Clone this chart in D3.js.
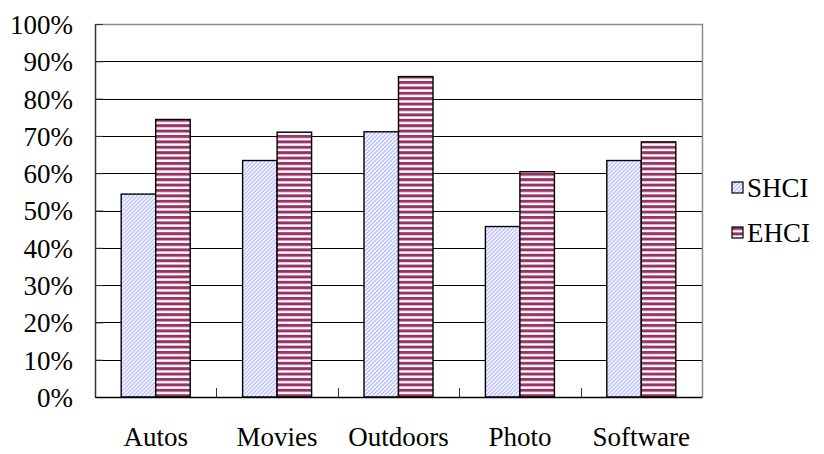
<!DOCTYPE html>
<html>
<head>
<meta charset="utf-8">
<script src="https://cdn.jsdelivr.net/npm/d3@7"></script>
<style>
  html, body { margin: 0; padding: 0; background: #fff; }
  svg { display: block; }
  text { font-family: "Liberation Serif", "Times New Roman", serif; fill: #000; }
</style>
</head>
<body>
<svg id="chart" width="824" height="454"></svg>
<script>
const categories = ["Autos", "Movies", "Outdoors", "Photo", "Software"];
const seriesNames = ["SHCI", "EHCI"];
const shci = [0.544, 0.634, 0.711, 0.457, 0.634];
const ehci = [0.744, 0.710, 0.859, 0.604, 0.684];
const yTicks = [0, 0.1, 0.2, 0.3, 0.4, 0.5, 0.6, 0.7, 0.8, 0.9, 1.0];

const svg = d3.select("#chart");
const m = { left: 95, right: 702, top: 24, bottom: 397 };
const fontSize = "27px";

// fills for each series
const defs = svg.append("defs");
const hatch = defs.append("pattern")
  .attr("id", "hatch-shci").attr("patternUnits", "userSpaceOnUse")
  .attr("width", 4).attr("height", 4);
hatch.append("rect").attr("width", 4).attr("height", 4).attr("fill", "#ffffff");
hatch.append("path").attr("d", "M-1,1 l2,-2 M0,4 l4,-4 M3,5 l2,-2")
  .attr("stroke", "#b4b8ff").attr("stroke-width", 1.3);

const stripe = defs.append("pattern")
  .attr("id", "stripe-ehci").attr("patternUnits", "userSpaceOnUse")
  .attr("width", 8).attr("height", 5.4);
stripe.append("rect").attr("width", 8).attr("height", 5.4).attr("fill", "#ffffff");
stripe.append("rect").attr("y", 0).attr("width", 8).attr("height", 3).attr("fill", "#993366");

const fills = ["url(#hatch-shci)", "url(#stripe-ehci)"];

const x = d3.scaleBand().domain(categories).range([m.left, m.right]).paddingInner(0).paddingOuter(0);
const inner = d3.scaleBand().domain(seriesNames).range([0, 69]);
const y = d3.scaleLinear().domain([0, 1]).range([m.bottom, m.top]);

// horizontal gridlines
svg.append("g").selectAll("line").data(yTicks.filter(d => d > 0 && d < 1)).join("line")
  .attr("x1", m.left).attr("x2", m.right)
  .attr("y1", d => Math.round(y(d)) + 0.5).attr("y2", d => Math.round(y(d)) + 0.5)
  .attr("stroke", "#000").attr("stroke-width", 1);

// frame top and right
svg.append("path")
  .attr("d", `M${m.left},${m.top + 0.5}H${m.right + 0.5}V${m.bottom}`)
  .attr("fill", "none").attr("stroke", "#8c8c8c").attr("stroke-width", 1.5);

// bars
const data = categories.map((c, i) => ({ cat: c, vals: [shci[i], ehci[i]] }));
const groups = svg.append("g").selectAll("g").data(data).join("g")
  .attr("transform", d => `translate(${x(d.cat) + (x.bandwidth() - 69) / 2},0)`);
groups.selectAll("rect").data(d => d.vals.map((v, j) => ({ v, j }))).join("rect")
  .attr("x", d => inner(seriesNames[d.j]))
  .attr("width", inner.bandwidth())
  .attr("y", d => y(d.v))
  .attr("height", d => y(0) - y(d.v))
  .attr("fill", d => fills[d.j])
  .attr("stroke", "#000").attr("stroke-width", 1.4);

// y axis
const yAxis = svg.append("g").attr("transform", `translate(${m.left},0)`)
  .call(d3.axisLeft(y).tickValues(yTicks).tickFormat(d3.format(".0%")).tickSizeInner(-8).tickSizeOuter(0).tickPadding(22));
yAxis.select(".domain").attr("stroke", "#333").attr("stroke-width", 1.5);
yAxis.selectAll(".tick line").attr("stroke", "#333");
yAxis.selectAll("text").style("font-size", fontSize).style("font-family", "Liberation Serif, serif").attr("dy", "0.35em");

// x axis
const xAxis = svg.append("g").attr("transform", `translate(0,${m.bottom})`)
  .call(d3.axisBottom(x).tickSize(0).tickPadding(30));
xAxis.select(".domain").attr("stroke", "#000").attr("stroke-width", 1.5);
xAxis.selectAll("text").style("font-size", fontSize).style("font-family", "Liberation Serif, serif");
// category separators
svg.append("g").selectAll("line").data(categories.slice(1)).join("line")
  .attr("x1", d => Math.round(x(d)) + 0.5).attr("x2", d => Math.round(x(d)) + 0.5)
  .attr("y1", m.bottom - 9).attr("y2", m.bottom)
  .attr("stroke", "#333").attr("stroke-width", 1);

// legend
const legend = svg.append("g").attr("transform", "translate(732,182)");
const items = legend.selectAll("g").data(seriesNames).join("g")
  .attr("transform", (d, i) => `translate(0,${i * 45})`);
items.append("rect").attr("width", 11).attr("height", 11)
  .attr("fill", (d, i) => fills[i]).attr("stroke", "#000").attr("stroke-width", 1.2);
items.append("text").attr("x", 15).attr("y", 6).attr("dy", "0.35em")
  .style("font-size", fontSize).text(d => d);
</script>
</body>
</html>
